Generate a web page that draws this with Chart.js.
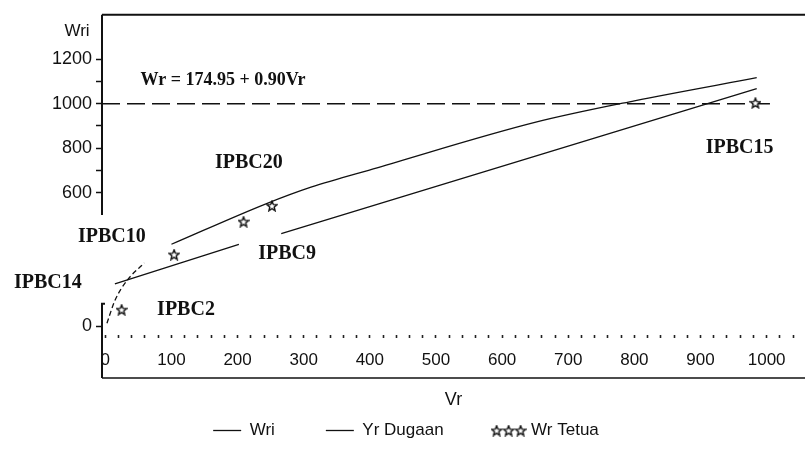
<!DOCTYPE html>
<html>
<head>
<meta charset="utf-8">
<script src="https://cdn.jsdelivr.net/npm/chart.js@4.4.1/dist/chart.umd.min.js"></script>
<style>
  body { margin: 0; background: #fff; }
  canvas { display: block; }
</style>
</head>
<body>
<canvas id="wrChart" width="812" height="449"></canvas>
<script>
// values
const wriVr   = [2.5, 14.5, 32.5, 59, 80, 100, 242, 311, 411, 651, 800, 985];
const wriVal  = [13, 115, 204, 284, null, 368, 549, 625, 712, 917, 1013, 1117];
const dugVr   = [14.5, 202, 235, 266, 985];
const dugVal  = [190, 368, null, 416, 1068];
const tetuaVr  = [24.6, 104, 209, 252, 983];
const tetuaVal = [74, 322, 470, 541, 1004];
const refVr   = [-5, 1005];
const refVal  = [1000, 1000];

const xLabels = [0, 100, 200, 300, 400, 500, 600, 700, 800, 900, 1000];
const yLabels = [0, 600, 800, 1000, 1200];
const yMinor  = [700, 900, 1100];

const notes = [
  {text: 'Wr = 174.95 + 0.90Vr', x: 178, y: 1103, size: 18},
  {text: 'IPBC20', x: 217, y: 735, size: 20},
  {text: 'IPBC10', x: 10, y: 403, size: 20},
  {text: 'IPBC14', x: -87, y: 195, size: 20},
  {text: 'IPBC2', x: 122, y: 71, size: 20},
  {text: 'IPBC9', x: 275, y: 323, size: 20},
  {text: 'IPBC15', x: 959, y: 802, size: 20}
];

const pts = (xs, ys) => xs.map((x, i) => ({x: x, y: ys[i]}));

function starCanvas(count) {
  const c = document.createElement('canvas');
  c.width = 12 * count; c.height = 12;
  const g = c.getContext('2d');
  g.strokeStyle = '#111'; g.lineWidth = 1.4; g.fillStyle = '#fff';
  for (let k = 0; k < count; k++) {
    const cx = 6 + 12 * k, cy = 6.5;
    g.beginPath();
    for (let i = 0; i < 10; i++) {
      const r = i % 2 ? 2.3 : 5.2;
      const a = -Math.PI / 2 + i * Math.PI / 5;
      g.lineTo(cx + r * Math.cos(a), cy + r * Math.sin(a));
    }
    g.closePath(); g.fill(); g.stroke();
  }
  return c;
}
const star = starCanvas(1);
const stars3 = starCanvas(3);

const sans = "'Liberation Sans', Arial, sans-serif";
const serif = "'Liberation Serif', 'Times New Roman', serif";

// frame, broken y axis and text labels
const decor = {
  id: 'decor',
  afterDraw(chart) {
    const {ctx, chartArea: a, scales: {x, y}} = chart;
    ctx.save();
    ctx.strokeStyle = '#111';
    ctx.lineWidth = 2;
    ctx.beginPath();
    ctx.moveTo(a.left, a.top); ctx.lineTo(a.right, a.top);
    ctx.moveTo(a.left, a.top); ctx.lineTo(a.left, y.getPixelForValue(500));
    ctx.moveTo(a.left + 3, y.getPixelForValue(100)); ctx.lineTo(a.left, y.getPixelForValue(100));
    ctx.lineTo(a.left, 378);
    ctx.stroke();
    ctx.lineWidth = 1.5;
    ctx.beginPath();
    ctx.moveTo(a.left, 378); ctx.lineTo(a.right, 378);
    ctx.stroke();

    ctx.fillStyle = '#111';
    ctx.textAlign = 'center';
    ctx.textBaseline = 'middle';
    notes.forEach(n => {
      ctx.font = 'bold ' + n.size + 'px ' + serif;
      ctx.fillText(n.text, x.getPixelForValue(n.x), y.getPixelForValue(n.y));
    });
    ctx.font = '17px ' + sans;
    ctx.fillText('Wri', 77, 31);
    ctx.restore();
  }
};

new Chart(document.getElementById('wrChart'), {
  type: 'scatter',
  data: {
    datasets: [
      {
        label: 'Wri',
        data: pts(wriVr, wriVal),
        showLine: true,
        cubicInterpolationMode: 'monotone',
        borderColor: '#111',
        borderWidth: 1.3,
        pointRadius: 0,
        segment: {
          borderDash: ctx => ctx.p1.parsed.x <= 60 ? [5, 3] : undefined
        }
      },
      {
        label: 'Yr Dugaan',
        data: pts(dugVr, dugVal),
        showLine: true,
        borderColor: '#111',
        borderWidth: 1.3,
        pointRadius: 0
      },
      {
        label: 'Wr Tetua',
        data: pts(tetuaVr, tetuaVal),
        showLine: false,
        pointStyle: star,
        pointRadius: 6
      },
      {
        label: 'ref',
        data: pts(refVr, refVal),
        showLine: true,
        borderColor: '#111',
        borderWidth: 1.3,
        borderDash: [18, 7],
        pointRadius: 0
      }
    ]
  },
  options: {
    responsive: false,
    animation: false,
    spanGaps: false,
    layout: { padding: { top: 10, right: 0, left: 0, bottom: 0 } },
    plugins: {
      tooltip: { enabled: false },
      legend: {
        position: 'bottom',
        labels: {
          color: '#111',
          font: { family: sans, size: 17 },
          usePointStyle: true,
          pointStyleWidth: 28,
          padding: 51,
          generateLabels(chart) {
            const items = Chart.defaults.plugins.legend.labels.generateLabels(chart);
            return items.filter(i => i.datasetIndex < 3).map(i => {
              if (i.datasetIndex === 2) {
                i.pointStyle = stars3;
              } else {
                i.pointStyle = 'line';
                i.lineDash = [];
                i.lineWidth = 1.3;
              }
              return i;
            });
          }
        }
      }
    },
    scales: {
      x: {
        type: 'linear',
        min: -5,
        max: 1058,
        afterFit: s => { s.height = 36; },
        afterBuildTicks: s => {
          const t = [];
          for (let v = 0; v <= 1040; v += 20) t.push({value: v});
          s.ticks = t;
        },
        border: { display: false },
        grid: { drawOnChartArea: false, drawTicks: true, tickLength: 3, tickWidth: 1.6, tickColor: '#222' },
        ticks: {
          autoSkip: false,
          maxRotation: 0,
          padding: 12,
          color: '#111',
          font: { family: sans, size: 17 },
          callback: v => xLabels.includes(v) ? String(v) : ''
        },
        title: {
          display: true,
          text: 'Vr',
          color: '#111',
          font: { family: sans, size: 18 },
          padding: { top: 0, bottom: -40 }
        }
      },
      y: {
        type: 'linear',
        min: -40,
        max: 1400,
        afterFit: s => { s.width = 102; },
        afterBuildTicks: s => {
          s.ticks = yLabels.concat(yMinor).sort((a, b) => a - b).map(v => ({value: v}));
        },
        border: { display: false },
        grid: { drawOnChartArea: false, drawTicks: true, tickLength: 6, tickWidth: 1.5, tickColor: '#111' },
        ticks: {
          padding: 4,
          color: '#111',
          font: { family: sans, size: 18 },
          callback: v => yLabels.includes(v) ? String(v) : ''
        }
      }
    }
  },
  plugins: [decor]
});
</script>
</body>
</html>
